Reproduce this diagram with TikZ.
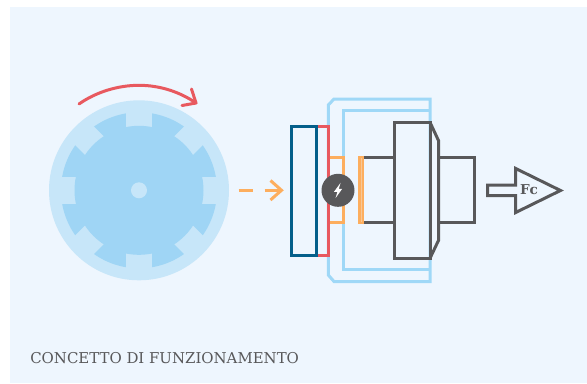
\documentclass[tikz,border=0pt]{standalone}
\usepackage{fontspec}
\setmainfont{DejaVu Serif}
\definecolor{panel}{HTML}{EEF6FE}
\definecolor{rotorlight}{HTML}{C7E6F9}
\definecolor{rotormid}{HTML}{9FD5F5}
\definecolor{redline}{HTML}{E8595F}
\definecolor{navy}{HTML}{045F8A}
\definecolor{skyline}{HTML}{9FD8F7}
\definecolor{orangeline}{HTML}{FDAE5E}
\definecolor{grayline}{HTML}{58585A}
\tikzset{
  part/.style={line width=2.25pt,line join=miter},
  notch/.style={fill=rotorlight,draw=none},
}
\begin{document}
\begin{tikzpicture}[x=0.75pt,y=-0.75pt]
\useasboundingbox (0,0) rectangle (587,383);
\fill[white] (0,0) rectangle (587,383);
\fill[panel] (10,7) rectangle (587,383);
% rotor
\coordinate (rc) at (139,190.3);
\fill[rotorlight] (rc) circle[radius=90];
\fill[rotormid] (rc) circle[radius=78];
\foreach \a in {0,45,...,315}{
  \fill[notch,shift={(rc)},rotate=\a] (60,-13.2) rectangle (82,13.2);
}
\fill[rotormid] (rc) circle[radius=64.5];
\fill[rotorlight] (rc) circle[radius=8];
% rotation arrow
\coordinate (ra) at (79,104);
\coordinate (rb) at (196,103);
\draw[part,redline,line cap=round,line join=round] (ra) .. controls (96,92) and (118,85.3) .. (139,85.3) .. controls (160,85.3) and (180,92) .. (rb);
\draw[part,redline,line cap=round,line join=round] (191.5,89) -- (rb) -- (182,105.5);
% transfer arrow
\coordinate (d1) at (238.5,190.3);
\coordinate (d2) at (253,190.3);
\coordinate (d3) at (264.5,190.3);
\coordinate (d4) at (281.5,190.3);
\draw[part,orangeline] (d1) -- (d2);
\draw[part,orangeline] (d3) -- (d4);
\draw[part,orangeline] (270.5,180.5) -- (d4) -- (270.5,200);
% housing
\draw[part,skyline] (430,99) -- (334,99) -- (328.3,105) -- (328.3,275) -- (334,281.5) -- (430,281.5) -- cycle;
\draw[part,skyline] (430,110.5) -- (343.3,110.5) -- (343.3,269) -- (430,269);
% orange parts
\draw[part,orangeline] (328.3,157.3) -- (343.5,157.3) -- (343.5,222.7) -- (328.3,222.7);
% red and navy plates
\draw[part,redline] (316.7,126) rectangle (328.3,255);
\draw[part,navy] (291.5,126) rectangle (316.7,255);
% grey body
\draw[part,grayline] (364,157.3) -- (394.3,157.3);
\draw[part,grayline] (364,222.7) -- (394.3,222.7);
\draw[part,grayline] (394.3,122.3) rectangle (430,258.3);
\draw[part,grayline] (430,122.3) -- (438.7,141) -- (438.7,240) -- (430,258.3);
\draw[part,grayline] (438.7,157.3) -- (474,157.3) -- (474,222.7) -- (438.7,222.7);
\draw[orangeline,fill=orangeline!65!panel,line width=1.7pt] (359.4,157) rectangle (363.2,223);
% spark
\node[circle,fill=grayline,minimum size=24.75pt,inner sep=0pt] (spark) at (338,190.3) {};
\fill[white] (340.6,182.8) -- (334,191.8) -- (337.4,191.8) -- (335.6,198) -- (342.2,188.8) -- (338.8,188.8) -- cycle;
% force arrow
\draw[part,grayline,line join=miter] (487.5,185) -- (515.7,185) -- (515.7,168.5) -- (560.5,190.5) -- (515.7,212.5) -- (515.7,195.7) -- (487.5,195.7) -- cycle;
\node[inner sep=0pt,text=grayline,font=\bfseries\fontsize{10.2pt}{12pt}\selectfont] (fc) at (529,190) {Fc};
\node[inner sep=0pt,anchor=base west,text=grayline,font=\fontsize{11.2pt}{13pt}\selectfont] (title) at (30,363.5) {CONCETTO DI FUNZIONAMENTO};
\end{tikzpicture}
\end{document}
